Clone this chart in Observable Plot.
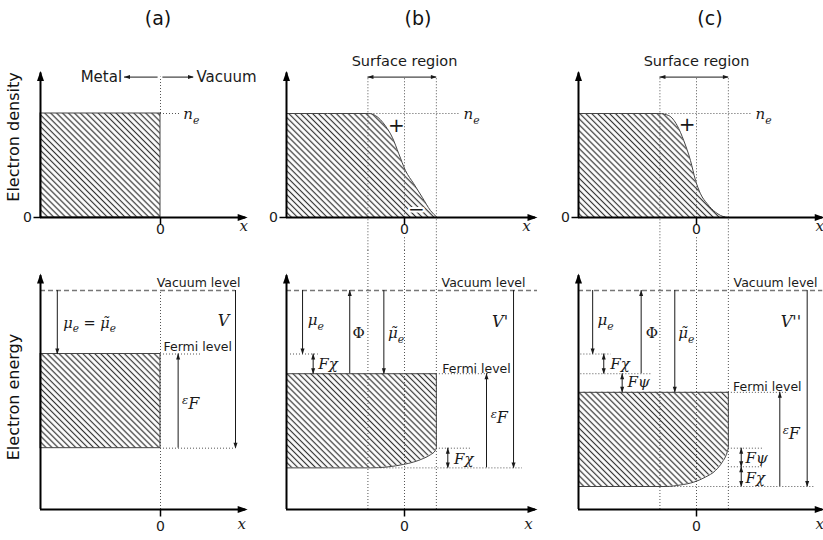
<!DOCTYPE html>
<html>
<head>
<meta charset="utf-8">
<script src="https://cdn.jsdelivr.net/npm/d3@7"></script>
<script src="https://cdn.jsdelivr.net/npm/@observablehq/plot@0.6"></script>
<style>
  html, body { margin: 0; padding: 0; background: #fff; }
  #fig { position: relative; width: 823px; height: 540px; overflow: hidden; font-family: "DejaVu Sans", sans-serif; color: #111; }
  .title { position: absolute; transform: translate(-50%, -50%); font-size: 19px; white-space: nowrap; }
  .rowlabel { position: absolute; transform: translate(-50%, -50%) rotate(-90deg); font-size: 16px; white-space: nowrap; }
</style>
</head>
<body>
<svg width="0" height="0" style="position:absolute">
  <defs>
    <pattern id="hatch" patternUnits="userSpaceOnUse" width="4.2" height="4.2" patternTransform="rotate(-45)">
      <line x1="2.1" y1="-1" x2="2.1" y2="5.2" stroke="#333" stroke-width="1.2"/>
    </pattern>
  </defs>
</svg>
<div id="fig"></div>
<script>
// ---------------- data ----------------
const panelLabels = ["(a)", "(b)", "(c)"];
const rowLabels = ["Electron density", "Electron energy"];
const regionNames = ["Metal", "Vacuum", "Surface region"];
const levelNames = ["Vacuum level", "Fermi level"];
const chargeSigns = ["+", "\u2212"];
const potentialNames = ["V", "V'", "V''"];
const xAxisEnds = [0.71, 1.11, 1.07];
const densityAxisTop = 1.39;
const energyAxisTop = 10.68;
const bulkDensity = 1;                 // n_e
const surfaceRegion = [-0.31, 0.27];   // extent of the surface region, (b) and (c)
const arrowRow = 1.35;                 // height of the Metal/Vacuum and Surface-region arrows

// electron density profiles (x, n/n_e)
const densityB = [
  {x: -1, n: 1}, {x: -0.305, n: 1}, {x: -0.246, n: 0.98}, {x: -0.161, n: 0.88},
  {x: -0.104, n: 0.772}, {x: -0.048, n: 0.612}, {x: 0.008, n: 0.452}, {x: 0.079, n: 0.324},
  {x: 0.150, n: 0.195}, {x: 0.220, n: 0.067}, {x: 0.277, n: 0}
];
const densityC = [
  {x: -1, n: 1}, {x: -0.319, n: 1}, {x: -0.235, n: 0.98}, {x: -0.164, n: 0.885},
  {x: -0.108, n: 0.74}, {x: -0.051, n: 0.548}, {x: -0.008, n: 0.356}, {x: 0.034, n: 0.228},
  {x: 0.091, n: 0.132}, {x: 0.161, n: 0.051}, {x: 0.246, n: 0.003}, {x: 0.274, n: 0}
];

// energy levels (vacuum level = 10)
const vacuumLevel = 10;
const muLevels = [7.1, 7.1, 7.1];      // vacuum level − μe
const chiLevels = [7.1, 6.2, 6.2];     // μe level − Fχ
const fermiLevels = [7.1, 6.2, 5.35];
const bandBottoms = [2.8, 1.9, 1.05];
const edgeTops = [2.8, 2.8, 2.8];      // band bottom at the surface
const psiEdgeLevel = 1.95;             // (c) split between Fψ and Fχ at the surface

// band bottom profiles (x, energy)
const bandEdgeB = [
  {x: -1, e: 1.9}, {x: -0.29, e: 1.9}, {x: -0.15, e: 1.94}, {x: -0.006, e: 2.06},
  {x: 0.079, e: 2.17}, {x: 0.164, e: 2.34}, {x: 0.220, e: 2.5}, {x: 0.263, e: 2.71}, {x: 0.27, e: 2.8}
];
const bandEdgeC = [
  {x: -1, e: 1.05}, {x: -0.26, e: 1.05}, {x: -0.136, e: 1.12}, {x: -0.023, e: 1.25},
  {x: 0.076, e: 1.48}, {x: 0.161, e: 1.78}, {x: 0.218, e: 2.16}, {x: 0.254, e: 2.52}, {x: 0.27, e: 2.8}
];

// ---------------- layout ----------------
const colPx = [[40, 160], [286, 404], [578, 696]];
const titleX = [158, 418, 710];
const topRow = {top: 0, height: 250, py: [217, 113], domain: [0, 1]};
const botRow = {top: 250, height: 290, py: [259, 40], domain: [0, 10]};
const xDx = [[-2, -9, -3], [-4, -7, -3]];

const SANS = "DejaVu Sans, sans-serif", SERIF = "DejaVu Serif, serif";
const INK = "#1a1a1a";

function head(len, wid, dir, over) {
  const [ux, uy] = dir, px = -uy, py = ux;
  return {draw(ctx) {
    const bx = -ux * (len - over), by = -uy * (len - over);
    ctx.moveTo(ux * over, uy * over);
    ctx.lineTo(bx + px * wid / 2, by + py * wid / 2);
    ctx.lineTo(bx - px * wid / 2, by - py * wid / 2);
    ctx.closePath();
  }};
}
const UP = [0, -1], DOWN = [0, 1], LEFT = [-1, 0], RIGHT = [1, 0];
const BIG_UP = head(10, 7, UP, 2), BIG_RIGHT = head(10, 7, RIGHT, 2);
const sm = d => head(6, 4, d, 0.5);
const TICK_DOWN = {draw(ctx) { ctx.moveTo(0, 0); ctx.lineTo(0, 7); }};
const TICK_LEFT = {draw(ctx) { ctx.moveTo(0, 0); ctx.lineTo(-7, 0); }};

const dotted = {stroke: "#555", strokeWidth: 1, strokeDasharray: "1,2"};
const hDots = (y, x1, x2) => Plot.ruleY([y], {x1, x2, ...dotted});
const vDots = (x, y1, y2) => Plot.ruleX([x], {y1, y2, ...dotted});
const tip = (x, y, dir, fill = INK) =>
  Plot.dot([{x, y}], {x: "x", y: "y", symbol: sm(dir), r: 3, fill, stroke: "none"});
const vArrow = (x, from, to) => [
  Plot.ruleX([x], {y1: from, y2: to, stroke: INK, strokeWidth: 1}),
  tip(x, to, to > from ? UP : DOWN)
];
const vDouble = (x, a, b) => [
  Plot.ruleX([x], {y1: a, y2: b, stroke: INK, strokeWidth: 1}),
  tip(x, Math.max(a, b), UP), tip(x, Math.min(a, b), DOWN)
];
const hArrow = (y, from, to) => [
  Plot.ruleY([y], {x1: from, x2: to, stroke: INK, strokeWidth: 1}),
  tip(to, y, to > from ? RIGHT : LEFT)
];
const label = (x, y, t, o = {}) =>
  Plot.text([{x, y, t}], {x: "x", y: "y", text: "t", fill: INK, ...o});
const math = {fontFamily: SERIF, fontStyle: "italic", fontSize: 15};
const sansL = {fontFamily: SANS, fontSize: 15};
const levelFont = {fontFamily: SANS, fontSize: 12.5};
const halo = {stroke: "white", strokeWidth: 5, paintOrder: "stroke"};

function frame(i, row) {
  const xEnd = xAxisEnds[i], yTop = row === "top" ? densityAxisTop : energyAxisTop;
  const m = [
    Plot.ruleY([0], {x1: -1, x2: xEnd, stroke: "#000", strokeWidth: 2}),
    Plot.ruleX([-1], {y1: 0, y2: yTop, stroke: "#000", strokeWidth: 2}),
    Plot.dot([{x: xEnd, y: 0}], {x: "x", y: "y", symbol: BIG_RIGHT, r: 4, fill: "#000", stroke: "none"}),
    Plot.dot([{x: -1, y: yTop}], {x: "x", y: "y", symbol: BIG_UP, r: 4, fill: "#000", stroke: "none"}),
    label(0, 0, "0", {fontFamily: SANS, fontSize: 14, dy: row === "top" ? 12 : 17, ...halo}),
    Plot.dot([{x: 0, y: 0}], {x: "x", y: "y", symbol: TICK_DOWN, r: 3, fill: "none", stroke: "#000", strokeWidth: 1.5}),
    label(xEnd, 0, "x", {...math, dx: xDx[row === "top" ? 0 : 1][i], dy: row === "top" ? 9 : 15})
  ];
  if (row === "top") {
    m.push(Plot.dot([{x: -1, y: 0}], {x: "x", y: "y", symbol: TICK_LEFT, r: 3, fill: "none", stroke: "#000", strokeWidth: 1.5}));
    m.push(label(-1, 0, "0", {fontFamily: SANS, fontSize: 14, dx: -13}));
  }
  return m;
}

// ---------------- panels ----------------
function topA() {
  return [
    vDots(0, bulkDensity, arrowRow),
    hDots(bulkDensity, 0, 0.17),
    Plot.rect([{x1: -1, x2: 0, y1: 0, y2: bulkDensity}],
      {x1: "x1", x2: "x2", y1: "y1", y2: "y2", fill: "url(#hatch)", stroke: "#444", strokeWidth: 1}),
    ...frame(0, "top"),
    ...hArrow(arrowRow, -0.02, -0.3), ...hArrow(arrowRow, 0.02, 0.275),
    label(-0.32, arrowRow, regionNames[0], {...sansL, textAnchor: "end"}),
    label(0.3, arrowRow, regionNames[1], {...sansL, textAnchor: "start"}),
    label(0.19, bulkDensity, "n_e", {...math, textAnchor: "start", dy: 1})
  ];
}
function topSurface(i, profile, plus, minus) {
  const [s0, s1] = surfaceRegion;
  const m = [
    vDots(s0, -0.32, arrowRow), vDots(0, -0.32, arrowRow), vDots(s1, -0.32, arrowRow),
    hDots(bulkDensity, s0, 0.47),
    Plot.areaY(profile, {x: "x", y: "n", fill: "url(#hatch)", curve: "monotone-x"}),
    Plot.line(profile, {x: "x", y: "n", stroke: "#444", strokeWidth: 1, curve: "monotone-x"}),
    ...frame(i, "top"),
    Plot.ruleY([arrowRow], {x1: s0, x2: s1, stroke: INK, strokeWidth: 1}),
    tip(s0, arrowRow, LEFT), tip(s1, arrowRow, RIGHT),
    label(0, 1.5, regionNames[2], {fontFamily: SANS, fontSize: 14.5}),
    label(plus[0], plus[1], chargeSigns[0], {fontFamily: SANS, fontSize: 20}),
    label(0.5, bulkDensity, "n_e", {...math, textAnchor: "start", dy: 1})
  ];
  if (minus) m.push(label(minus[0], minus[1], chargeSigns[1], {fontFamily: SANS, fontSize: 20, ...halo, strokeWidth: 4}));
  return m;
}

function botA() {
  const F = fermiLevels[0], B = bandBottoms[0], Vx = 0.625;
  return [
    vDots(0, 0, vacuumLevel),
    hDots(F, 0, 0.35), hDots(B, 0, Vx),
    Plot.rect([{x1: -1, x2: 0, y1: B, y2: F}],
      {x1: "x1", x2: "x2", y1: "y1", y2: "y2", fill: "url(#hatch)", stroke: "#444", strokeWidth: 1}),
    Plot.ruleY([vacuumLevel], {x1: -1, x2: Vx, stroke: "#777", strokeWidth: 1.4, strokeDasharray: "5,3"}),
    ...vArrow(Vx, vacuumLevel, B),
    ...vArrow(-0.86, vacuumLevel, muLevels[0]),
    ...vArrow(0.147, B, F),
    label(0.667, vacuumLevel, levelNames[0], {...levelFont, textAnchor: "end", dy: -8}),
    label(0.025, F, levelNames[1], {...levelFont, textAnchor: "start", dy: -7}),
    label(-0.81, 8.49, "\u03bc_e = \u03bc\u0303_e", {...math, fontSize: 14.5, textAnchor: "start"}),
    label(0.525, 8.63, potentialNames[0], {...math, fontSize: 16}),
    label(0.18, 4.84, "^\u03b5F", {...math, fontSize: 16, textAnchor: "start"}),
    ...frame(0, "bot")
  ];
}
function botB() {
  const [s0, s1] = surfaceRegion;
  const F = fermiLevels[1], B = bandBottoms[1], T = edgeTops[1], M = muLevels[1], Vx = 0.924;
  return [
    vDots(s0, 0, 11.9), vDots(0, 0, 11.9), vDots(s1, 0, 11.9),
    hDots(M, -0.966, -0.73), hDots(F, s1, 0.73), hDots(T, s1, 0.56), hDots(B, -0.2, 1.0),
    Plot.areaY(bandEdgeB, {x: "x", y1: "e", y2: F, fill: "url(#hatch)", curve: "monotone-x"}),
    Plot.line(bandEdgeB, {x: "x", y: "e", stroke: "#444", strokeWidth: 1, curve: "monotone-x"}),
    Plot.ruleY([F], {x1: -1, x2: s1, stroke: "#444", strokeWidth: 1}),
    Plot.ruleX([s1], {y1: T, y2: F, stroke: "#444", strokeWidth: 1}),
    Plot.ruleY([vacuumLevel], {x1: -1, x2: 1.127, stroke: "#777", strokeWidth: 1.4, strokeDasharray: "5,3"}),
    ...vArrow(-0.864, vacuumLevel, M),
    ...vDouble(-0.774, M, chiLevels[1]),
    ...vArrow(-0.464, F, vacuumLevel),
    ...vArrow(-0.175, vacuumLevel, F),
    ...vArrow(Vx, vacuumLevel, B),
    ...vArrow(0.695, B, F),
    ...vDouble(0.367, T, B),
    label(1.025, vacuumLevel, levelNames[0], {...levelFont, textAnchor: "end", dy: -8}),
    label(0.32, F, levelNames[1], {...levelFont, textAnchor: "start", dy: -5}),
    label(-0.82, 8.63, "\u03bc_e", {...math, textAnchor: "start"}),
    label(-0.44, 8.05, "\u03a6", {...math, fontStyle: "normal", textAnchor: "start"}),
    label(-0.14, 8.03, "\u03bc\u0303_e", {...math, textAnchor: "start"}),
    label(0.81, 8.55, potentialNames[1], {...math, fontSize: 16}),
    label(-0.73, 6.62, "F\u03c7", {...math, textAnchor: "start"}),
    label(0.42, 2.28, "F\u03c7", {...math, textAnchor: "start"}),
    label(0.73, 4.2, "^\u03b5F", {...math, fontSize: 16, textAnchor: "start"}),
    ...frame(1, "bot")
  ];
}
function botC() {
  const [s0, s1] = surfaceRegion;
  const F = fermiLevels[2], B = bandBottoms[2], T = edgeTops[2], M = muLevels[2], X = chiLevels[2], Vx = 0.938;
  return [
    vDots(s0, 0, 11.9), vDots(0, 0, 11.9), vDots(s1, 0, 11.9),
    hDots(M, -0.98, -0.723), hDots(X, -0.98, -0.375), hDots(F, s1, 0.77),
    hDots(T, s1, 0.57), hDots(psiEdgeLevel, s1, 0.57), hDots(B, -0.26, 1.0),
    Plot.areaY(bandEdgeC, {x: "x", y1: "e", y2: F, fill: "url(#hatch)", curve: "monotone-x"}),
    Plot.line(bandEdgeC, {x: "x", y: "e", stroke: "#444", strokeWidth: 1, curve: "monotone-x"}),
    Plot.ruleY([F], {x1: -1, x2: s1, stroke: "#444", strokeWidth: 1}),
    Plot.ruleX([s1], {y1: T, y2: F, stroke: "#444", strokeWidth: 1}),
    Plot.ruleY([vacuumLevel], {x1: -1, x2: 1.07, stroke: "#777", strokeWidth: 1.4, strokeDasharray: "5,3"}),
    ...vArrow(-0.88, vacuumLevel, M),
    ...vDouble(-0.786, M, X),
    ...vDouble(-0.63, X, F),
    ...vArrow(-0.469, X, vacuumLevel),
    ...vArrow(-0.184, vacuumLevel, F),
    ...vArrow(Vx, vacuumLevel, B),
    ...vArrow(0.706, B, F),
    ...vDouble(0.379, T, psiEdgeLevel),
    ...vDouble(0.379, psiEdgeLevel, B),
    label(1.025, vacuumLevel, levelNames[0], {...levelFont, textAnchor: "end", dy: -8}),
    label(0.31, F, levelNames[1], {...levelFont, textAnchor: "start", dy: -5}),
    label(-0.84, 8.63, "\u03bc_e", {...math, textAnchor: "start"}),
    label(-0.43, 8.05, "\u03a6", {...math, fontStyle: "normal", textAnchor: "start"}),
    label(-0.155, 8.03, "\u03bc\u0303_e", {...math, textAnchor: "start"}),
    label(0.80, 8.55, potentialNames[2], {...math, fontSize: 16}),
    label(-0.73, 6.62, "F\u03c7", {...math, textAnchor: "start"}),
    label(-0.585, 5.81, "F\u03c8", {...math, textAnchor: "start"}),
    label(0.415, 2.33, "F\u03c8", {...math, textAnchor: "start"}),
    label(0.415, 1.42, "F\u03c7", {...math, textAnchor: "start"}),
    label(0.73, 3.47, "^\u03b5F", {...math, fontSize: 16, textAnchor: "start"}),
    ...frame(2, "bot")
  ];
}

// ---------------- render ----------------
const fig = document.getElementById("fig");

function applyScripts(svg) {
  svg.querySelectorAll("text").forEach(el => {
    const s = el.textContent;
    if (!/[_^]/.test(s)) return;
    const fs = parseFloat(getComputedStyle(el).fontSize) || 14;
    const chars = Array.from(s), segs = [];
    for (let i = 0; i < chars.length; i++) {
      const c = chars[i];
      if ((c === "_" || c === "^") && i + 1 < chars.length) segs.push({t: chars[++i], mode: c === "_" ? "sub" : "sup"});
      else if (segs.length && segs[segs.length - 1].mode === "n") segs[segs.length - 1].t += c;
      else segs.push({t: c, mode: "n"});
    }
    el.textContent = "";
    let cur = 0;
    for (const sg of segs) {
      const target = sg.mode === "sub" ? 0.28 * fs : sg.mode === "sup" ? -0.3 * fs : 0;
      const ts = document.createElementNS("http://www.w3.org/2000/svg", "tspan");
      if (target !== cur) ts.setAttribute("dy", target - cur);
      if (sg.mode !== "n") ts.setAttribute("font-size", 0.72 * fs);
      ts.textContent = sg.t;
      el.appendChild(ts);
      cur = target;
    }
  });
}

function panel(i, row, marks) {
  const svg = Plot.plot({
    width: 823, height: row.height,
    style: {position: "absolute", left: "0px", top: row.top + "px", background: "transparent", overflow: "visible"},
    x: {domain: [-1, 0], range: colPx[i], axis: null},
    y: {domain: row.domain, range: row.py, axis: null},
    marks
  });
  fig.appendChild(svg);
  applyScripts(svg);
}

panel(0, topRow, topA());
panel(1, topRow, topSurface(1, densityB, [-0.068, 0.885], [0.10, 0.077]));
panel(2, topRow, topSurface(2, densityC, [-0.079, 0.89], null));
panel(0, botRow, botA());
panel(1, botRow, botB());
panel(2, botRow, botC());

panelLabels.forEach((t, i) => {
  const d = document.createElement("div");
  d.className = "title"; d.textContent = t;
  d.style.left = titleX[i] + "px"; d.style.top = "18px";
  fig.appendChild(d);
});
[[13, 137], [13, 397]].forEach(([x, y], i) => {
  const d = document.createElement("div");
  d.className = "rowlabel"; d.textContent = rowLabels[i];
  d.style.left = x + "px"; d.style.top = y + "px";
  fig.appendChild(d);
});
</script>
</body>
</html>
